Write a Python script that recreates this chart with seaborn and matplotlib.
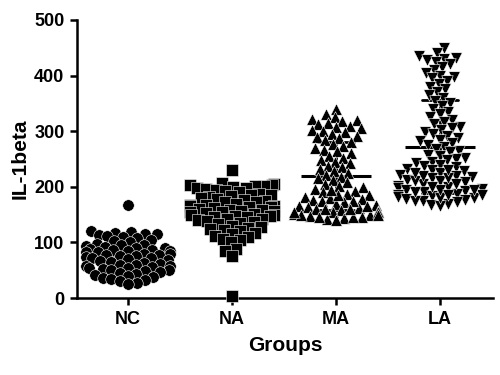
import numpy as np
import pandas as pd
import matplotlib
matplotlib.use("Agg")
import matplotlib.pyplot as plt
import matplotlib.patheffects as pe
import seaborn as sns

groups = ["NC", "NA", "MA", "LA"]
nc_vals = [168, 120, 118, 117, 116, 115, 114, 112, 110, 108, 105, 102, 100, 98, 96, 95, 93,
           92, 90, 90, 88, 87, 86, 85, 84, 83, 82, 80, 79, 78, 77, 76, 75, 74, 73, 72, 70,
           68, 66, 65, 63, 62, 60, 60, 58, 57, 56, 55, 54, 52, 50, 50, 48, 47, 45, 44, 42,
           40, 38, 36, 35, 33, 30, 28, 25]
na_vals = [230, 207, 205, 204, 203, 202, 201, 200, 198, 197, 196, 195, 193, 190, 188, 186,
           185, 183, 182, 180, 178, 176, 175, 173, 172, 170, 168, 167, 166, 165, 164, 163,
           162, 160, 159, 158, 157, 156, 155, 154, 153, 152, 150, 149, 148, 147, 146, 145,
           143, 142, 140, 138, 137, 135, 133, 130, 128, 126, 124, 122, 120, 117, 115, 112,
           110, 107, 104, 100, 88, 85, 75, 3]
ma_vals = [340, 330, 325, 322, 320, 318, 315, 312, 310, 308, 305, 302, 300, 298, 295, 292,
           290, 287, 284, 280, 277, 274, 270, 267, 264, 260, 256, 252, 248, 245, 242, 238,
           235, 232, 228, 225, 222, 218, 215, 212, 208, 205, 202, 199, 196, 193, 190, 188,
           185, 182, 180, 178, 176, 174, 172, 170, 168, 166, 164, 162, 160, 158, 156, 154,
           152, 150, 148, 146, 144, 142, 140, 145, 150, 155, 160, 150, 155, 165, 175, 185,
           195, 145, 160]
la_vals = [450, 440, 435, 432, 430, 428, 425, 420, 415, 410, 405, 400, 398, 395, 390, 385,
           380, 375, 370, 365, 360, 355, 350, 345, 340, 335, 330, 325, 320, 316, 312, 308,
           305, 302, 298, 295, 292, 288, 285, 282, 278, 275, 272, 268, 265, 262, 258, 255,
           252, 250, 248, 245, 242, 240, 238, 235, 232, 230, 228, 225, 222, 220, 218, 215,
           212, 210, 208, 205, 202, 200, 198, 196, 194, 192, 190, 188, 186, 184, 182, 180,
           178, 176, 174, 172, 170, 168, 165, 175, 180, 185, 190, 195, 200, 205, 210, 215,
           220, 225, 230, 185, 195]
y_ticks = [0, 100, 200, 300, 400, 500]

vals = {"NC": nc_vals, "NA": na_vals, "MA": ma_vals, "LA": la_vals}
df = pd.DataFrame([(g, v) for g in groups for v in vals[g]], columns=["Groups", "IL-1beta"])

sns.set_style("ticks")
plt.rcParams["font.family"] = ["Liberation Sans", "DejaVu Sans"]
plt.rcParams["font.weight"] = "bold"
plt.rcParams["text.color"] = "black"
plt.rcParams["axes.labelcolor"] = "black"
plt.rcParams["xtick.color"] = "black"
plt.rcParams["ytick.color"] = "black"
plt.rcParams["axes.edgecolor"] = "black"

fig = plt.figure(figsize=(5, 3.75), dpi=100)
ax = fig.add_axes([0.154, 0.205, 0.832, 0.742])

markers = {"NC": "o", "NA": "s", "MA": "^", "LA": "v"}
for g in groups:
    sub = df[df["Groups"] == g]
    sns.swarmplot(data=sub, x="Groups", y="IL-1beta", order=groups, ax=ax,
                  color="black", marker=markers[g], size=5.6, edgecolor="white",
                  linewidth=0.4, warn_thresh=1.0)

ax.set_xlim(-0.49, 3.51)
ax.set_ylim(0, 500)
ax.set_yticks(y_ticks)

# compute the swarm layout with small markers, then freeze it and enlarge markers
fig.canvas.draw()
for c in ax.collections:
    if "draw" in c.__dict__:
        del c.__dict__["draw"]
    c.set_sizes([8.3 ** 2])
    c.set_clip_on(False)

n_lines = len(ax.lines)
sns.pointplot(data=df, x="Groups", y="IL-1beta", order=groups, ax=ax,
              errorbar="sd", capsize=0.34, color="black", linestyle="none",
              marker="_", markersize=50, markeredgewidth=2.2, err_kws={"linewidth": 2})
for ln in ax.lines[n_lines:]:
    ln.set_path_effects([pe.Stroke(linewidth=3.5, foreground="white"), pe.Normal()])
ax.set_xlim(-0.49, 3.51)
ax.set_ylim(0, 500)

sns.despine(ax=ax)
for s in ["left", "bottom"]:
    ax.spines[s].set_linewidth(1.8)
ax.tick_params(axis="both", width=1.8, length=5, labelsize=13, pad=4)
for lab in ax.get_xticklabels() + ax.get_yticklabels():
    lab.set_fontweight("bold")
ax.set_xlabel("Groups", fontsize=15, fontweight="bold", labelpad=6)
ax.set_ylabel("IL-1beta", fontsize=15, fontweight="bold", labelpad=3)

fig.savefig("out.png", dpi=100)
